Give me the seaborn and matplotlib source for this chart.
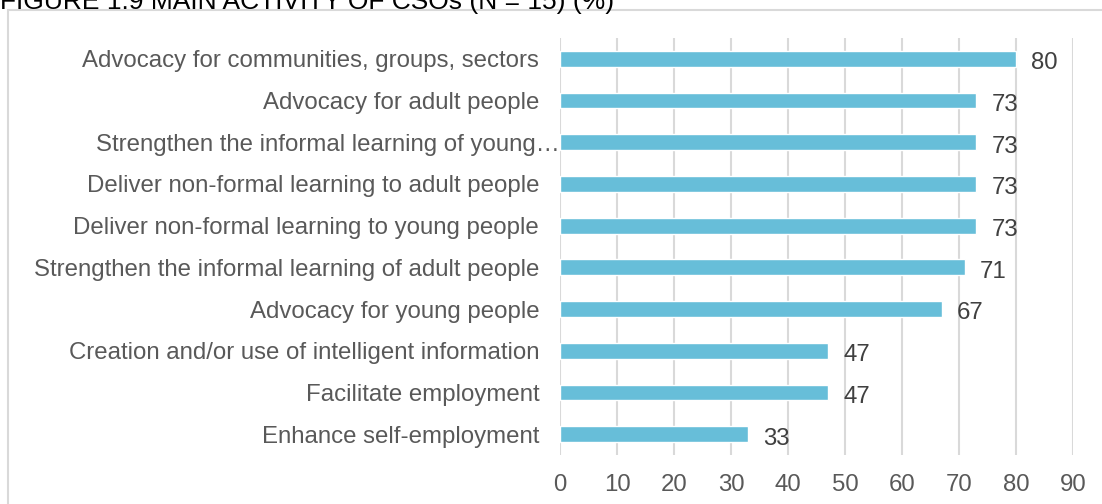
import matplotlib
matplotlib.use("Agg")
import matplotlib.pyplot as plt
import matplotlib.transforms as mtransforms
from matplotlib.patches import Rectangle
import seaborn as sns
import pandas as pd

activities = [
    "Advocacy for communities, groups, sectors",
    "Advocacy for adult people",
    "Strengthen the informal learning of young\u2026",
    "Deliver non-formal learning to adult people",
    "Deliver non-formal learning to young people",
    "Strengthen the informal learning of adult people",
    "Advocacy for young people",
    "Creation and/or use of intelligent information",
    "Facilitate employment",
    "Enhance self-employment",
]
shares = [80, 73, 73, 73, 73, 71, 67, 47, 47, 33]
x_ticks = [0, 10, 20, 30, 40, 50, 60, 70, 80, 90]

df = pd.DataFrame({"activity": activities, "share": shares})

sns.set_theme(style="white")
plt.rcParams["font.family"] = ["Liberation Sans", "DejaVu Sans"]

W, H, DPI = 1102, 504, 100
fig = plt.figure(figsize=(W / DPI, H / DPI), dpi=DPI)
ax = fig.add_axes([560 / W, 1 - 455 / H, (1073 - 560) / W, (455 - 38) / H])

bar_color = "#67BED9"
sns.barplot(data=df, x="share", y="activity", orient="h", color=bar_color,
            width=0.38, saturation=1, ax=ax, zorder=3)

ax.set_xlim(0, 90)
ax.set_ylim(len(activities) - 0.5, -0.5)
ax.set_xticks(x_ticks)
ax.set_xticklabels([str(t) for t in x_ticks])
ax.xaxis.grid(True, color="#D9D9D9", linewidth=1.5, zorder=0)
ax.yaxis.grid(False)
for side in ["top", "right", "bottom", "left"]:
    ax.spines[side].set_visible(False)
ax.set_xlabel("")
ax.set_ylabel("")

fs = 17.3
ax.tick_params(axis="x", length=0, pad=13.5, labelsize=fs, labelcolor="#595959")
ax.tick_params(axis="y", length=0, pad=15, labelsize=fs, labelcolor="#595959")

# the shortened label sits right against the axis
for lbl in ax.get_yticklabels():
    if lbl.get_text().endswith("\u2026"):
        lbl.set_transform(lbl.get_transform() +
                          mtransforms.ScaledTranslation(21 / DPI, 0, fig.dpi_scale_trans))

value_labels = ax.bar_label(ax.containers[0], labels=[str(v) for v in shares],
                            padding=11, fontsize=fs, color="#404040")
for t in value_labels:
    t.xyann = (11, -3.2)

# outer chart frame
fig.patches.append(Rectangle((8 / W, -0.05), 1.2, 1 - 10 / H + 0.05,
                             transform=fig.transFigure, fill=False,
                             edgecolor="#D9D9D9", linewidth=1.5))

fig.text(0.0, 1 - 9 / H, "FIGURE 1.9 MAIN ACTIVITY OF CSOs (N = 15) (%)",
         fontsize=19, color="#000000", ha="left", va="baseline")

fig.savefig("out.png", dpi=DPI)
